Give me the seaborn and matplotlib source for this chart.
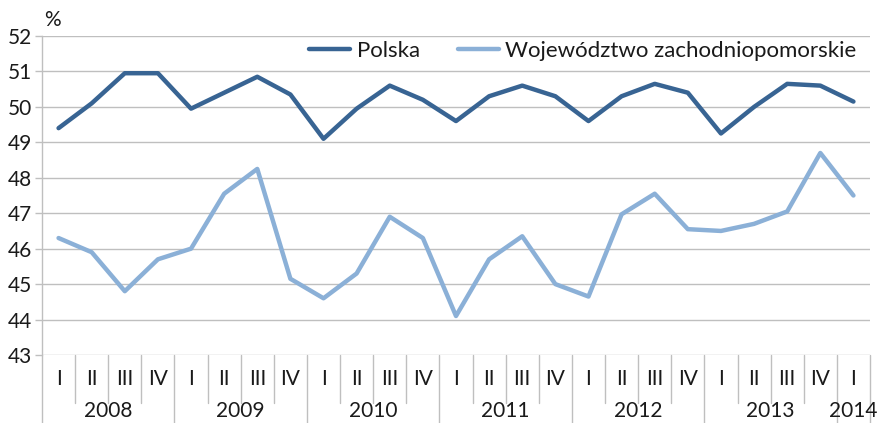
import numpy as np
import pandas as pd
import seaborn as sns
import matplotlib
matplotlib.use("Agg")
import matplotlib.pyplot as plt
from matplotlib.transforms import blended_transform_factory

# ---- data ----
years = ['2008', '2009', '2010', '2011', '2012', '2013', '2014']
quarters = ['I', 'II', 'III', 'IV'] * 6 + ['I']
series_names = ['Polska', 'Województwo zachodniopomorskie']
polska = [49.4, 50.1, 50.95, 50.95, 49.95, 50.4, 50.85, 50.35,
          49.1, 49.95, 50.6, 50.2, 49.6, 50.3, 50.6, 50.3,
          49.6, 50.3, 50.65, 50.4, 49.25, 50.0, 50.65, 50.6, 50.15]
woj = [46.3, 45.9, 44.8, 45.7, 46.0, 47.55, 48.25, 45.15,
       44.6, 45.3, 46.9, 46.3, 44.1, 45.7, 46.35, 45.0,
       44.65, 46.97, 47.55, 46.55, 46.5, 46.7, 47.05, 48.7, 47.5]
y_ticks = list(range(43, 53))

n = len(quarters)
df = pd.DataFrame({
    'idx': list(range(n)) * 2,
    'value': polska + woj,
    'series': [series_names[0]] * n + [series_names[1]] * n,
})

sns.set_theme(style='white')
plt.rcParams['font.family'] = ['Lato', 'DejaVu Sans']

W, H = 893, 423
fig = plt.figure(figsize=(W / 100, H / 100), dpi=100)
left, right, top, bottom = 42, 870, 36, 355
ax = fig.add_axes([left / W, 1 - bottom / H, (right - left) / W, (bottom - top) / H])

c_pl = '#386493'
c_wz = '#8BB0D7'
sns.lineplot(data=df, x='idx', y='value', hue='series', palette=[c_pl, c_wz],
             linewidth=3.2, ax=ax, legend=True, solid_capstyle='round')

fs = 15
txt_c = '#1a1a1a'
ax.set_xlim(-0.5, n - 0.5)
ax.set_ylim(43, 52)
ax.set_yticks(y_ticks)
ax.set_yticklabels([str(t) for t in y_ticks], fontsize=fs, color=txt_c)
ax.tick_params(axis='y', length=5, width=1, color='#BFBFBF', pad=2, left=True)
ax.set_xticks([])
ax.set_xlabel('')
ax.set_ylabel('')
ax.grid(axis='y', color='#BFBFBF', linewidth=1)
ax.grid(axis='x', visible=False)
for s in ['top', 'right', 'bottom']:
    ax.spines[s].set_visible(False)
ax.spines['left'].set_color('#BFBFBF')
ax.spines['left'].set_linewidth(1)

# "%" label
fig.text(44 / W, 1 - 20 / H, '%', fontsize=fs, color=txt_c, va='center', ha='left')

# two-level category axis
trans = blended_transform_factory(ax.transData, ax.transAxes)
axh = bottom - top
q_y = -(379 - bottom) / axh
y_y = -(411 - bottom) / axh
q_len = -(403 - bottom) / axh
y_len = -(H - bottom) / axh
for i in range(n + 1):
    xb = i - 0.5
    is_year = (i % 4 == 0) or i == n
    ax.plot([xb, xb], [0, y_len if is_year else q_len], transform=trans,
            color='#BFBFBF', linewidth=1, clip_on=False)
for i, q in enumerate(quarters):
    ax.text(i, q_y, q, transform=trans, ha='center', va='center', fontsize=fs, color=txt_c)
for k, yr in enumerate(years):
    start = 4 * k
    end = min(4 * k + 3, n - 1)
    ax.text((start + end) / 2, y_y, yr, transform=trans, ha='center', va='center',
            fontsize=fs, color=txt_c)

leg = ax.legend(loc='upper right', ncol=2, frameon=False, fontsize=16,
                bbox_to_anchor=(1.0, 1.027), handlelength=1.85, columnspacing=1.7,
                handletextpad=0.3, borderaxespad=0.2)
for t in leg.get_texts():
    t.set_color(txt_c)

fig.savefig('out.png', dpi=100)
